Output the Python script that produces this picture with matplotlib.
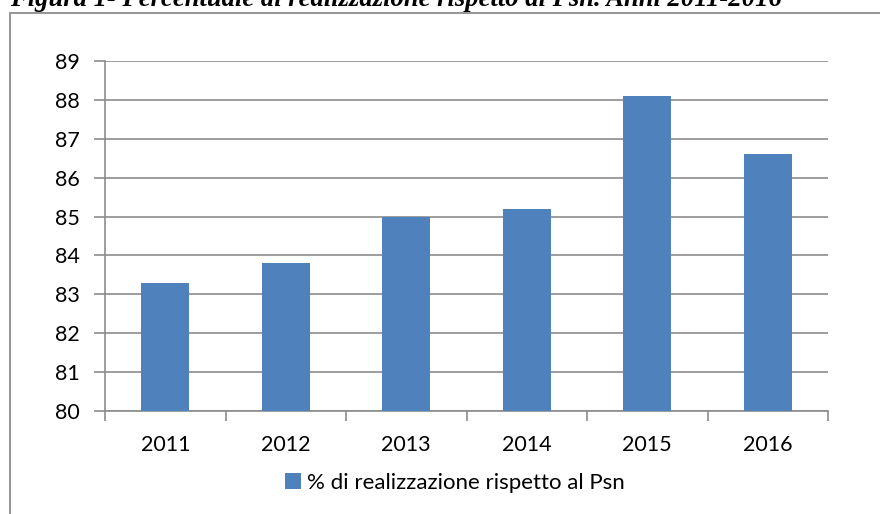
from matplotlib import pyplot as plt
from matplotlib.patches import Rectangle

# chart data
years = ['2011', '2012', '2013', '2014', '2015', '2016']
values = [83.3, 83.8, 85.0, 85.2, 88.1, 86.6]
series_label = '% di realizzazione rispetto al Psn'
title = 'Figura 1- Percentuale di realizzazione rispetto al Psn. Anni 2011-2016'

W, H = 880, 514
fig = plt.figure(figsize=(W / 100, H / 100), dpi=100)

# outer frame of the chart object (right/bottom fall off the picture)
fig.patches.append(Rectangle((10 / W, -0.01), 1.0, 1 - 12.5 / H + 0.01,
                             transform=fig.transFigure, fill=False,
                             edgecolor='#8c8c8c', linewidth=1.3))

# title, clipped at top of the picture
fig.text(10 / W, 1 - 6 / H, title, fontfamily='Liberation Serif',
         fontstyle='italic', fontweight='bold', fontsize=19.2,
         ha='left', va='baseline')

ax = fig.add_axes([105 / W, 1 - 411 / H, (828 - 105) / W, (411 - 61) / H])
x = range(len(years))
ax.bar(x, values, width=0.4, bottom=0, color='#4F81BD',
       label=series_label, zorder=3)

ax.set_ylim(80, 89)
ax.set_xlim(-0.5, len(years) - 0.5)
ax.set_yticks(range(80, 90))
ax.set_xticks(list(x))
ax.set_xticklabels(years)
ax.set_xticks([i - 0.5 for i in range(len(years) + 1)], minor=True)

grid_col = '#8c8c8c'
ax.yaxis.grid(True, color=grid_col, linewidth=1.2, zorder=0)
for side in ['top', 'right']:
    ax.spines[side].set_visible(False)
for side in ['left', 'bottom']:
    ax.spines[side].set_color(grid_col)
    ax.spines[side].set_linewidth(1.2)

ax.tick_params(axis='y', length=8, width=1.2, color=grid_col, pad=10,
               labelsize=15.5)
ax.tick_params(axis='x', which='major', length=0, pad=17, labelsize=15.5)
ax.tick_params(axis='x', which='minor', length=7, width=1.2, color=grid_col)
for lab in ax.get_xticklabels() + ax.get_yticklabels():
    lab.set_fontfamily('Lato')

leg = fig.legend(loc='center', bbox_to_anchor=(455 / W, 1 - 483 / H),
                 frameon=False, prop={'family': 'Lato', 'size': 16},
                 handlelength=0.7, handleheight=0.7, handletextpad=0.3)

fig.savefig('out.png', dpi=100)
